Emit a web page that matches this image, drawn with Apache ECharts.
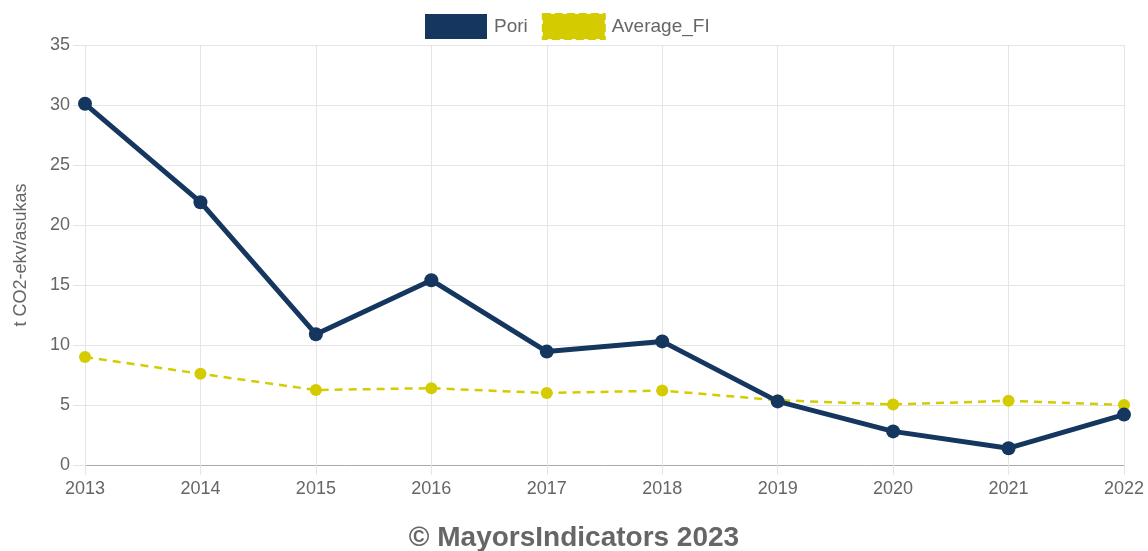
<!DOCTYPE html>
<html>
<head>
<meta charset="utf-8">
<script src="https://cdn.jsdelivr.net/npm/echarts@6/dist/echarts.min.js"></script>
<style>
  html, body { margin: 0; padding: 0; background: #fff; }
  #lineChart { width: 1148px; height: 551px; }
</style>
</head>
<body>
<div id="lineChart"></div>
<script>
// data
const years = ['2013', '2014', '2015', '2016', '2017', '2018', '2019', '2020', '2021', '2022'];
const pori = [30.1, 21.9, 10.9, 15.4, 9.45, 10.3, 5.3, 2.8, 1.4, 4.2];
const averageFI = [9.0, 7.6, 6.25, 6.4, 6.0, 6.2, 5.4, 5.05, 5.35, 5.0];
const yName = 't CO2-ekv/asukas';

const poriColor = '#15375f';
const avgColor = '#d4cc00';
const textColor = '#666';
const font = 'Arial, Liberation Sans, sans-serif';

const lineChart = echarts.init(document.getElementById('lineChart'));
const option = {
  animation: false,
  legend: {
    top: 8,
    left: 420,
    itemWidth: 62,
    itemHeight: 25,
    itemGap: 14,
    textStyle: { color: textColor, fontSize: 19, fontFamily: font, padding: [0, 0, 0, 2] },
    data: [
      { name: 'Pori', icon: 'rect', itemStyle: { color: poriColor, borderWidth: 0 } },
      { name: 'Average_FI', icon: 'rect', itemStyle: { color: avgColor, borderColor: avgColor, borderType: 'dashed', borderWidth: 2 } }
    ]
  },
  grid: { left: 85, right: 24, top: 45, bottom: 86, containLabel: false, outerBoundsMode: 'none' },
  xAxis: {
    type: 'category',
    boundaryGap: false,
    data: years,
    axisLine: { lineStyle: { color: '#aaa' } },
    axisTick: { show: true, alignWithLabel: true, length: 10, lineStyle: { color: '#e5e5e5' } },
    axisLabel: { color: textColor, fontSize: 18, margin: 15, fontFamily: font },
    splitLine: { show: true, lineStyle: { color: '#e5e5e5' } }
  },
  yAxis: {
    type: 'value',
    min: 0,
    max: 35,
    interval: 5,
    name: yName,
    nameLocation: 'middle',
    nameGap: 55,
    nameTextStyle: { color: textColor, fontSize: 18, fontFamily: font },
    axisLine: { show: false },
    axisTick: { show: true, length: 12, lineStyle: { color: '#e5e5e5' } },
    axisLabel: { color: textColor, fontSize: 18, margin: 15, fontFamily: font },
    splitLine: { show: true, lineStyle: { color: '#e5e5e5' } }
  },
  graphic: [{
    type: 'text',
    left: 'center',
    top: 524,
    style: {
      text: '\u00A9 MayorsIndicators 2023',
      fill: textColor,
      font: 'bold 28px Arial, "Liberation Sans", sans-serif'
    }
  }],
  series: [
    {
      name: 'Pori',
      type: 'line',
      data: pori,
      symbol: 'circle',
      symbolSize: 14,
      z: 3,
      itemStyle: { color: poriColor },
      lineStyle: { color: poriColor, width: 5 }
    },
    {
      name: 'Average_FI',
      type: 'line',
      data: averageFI,
      symbol: 'circle',
      symbolSize: 12,
      z: 2,
      itemStyle: { color: avgColor },
      lineStyle: { color: avgColor, width: 2.5, type: [8, 6] }
    }
  ]
};
lineChart.setOption(option);
</script>
</body>
</html>
